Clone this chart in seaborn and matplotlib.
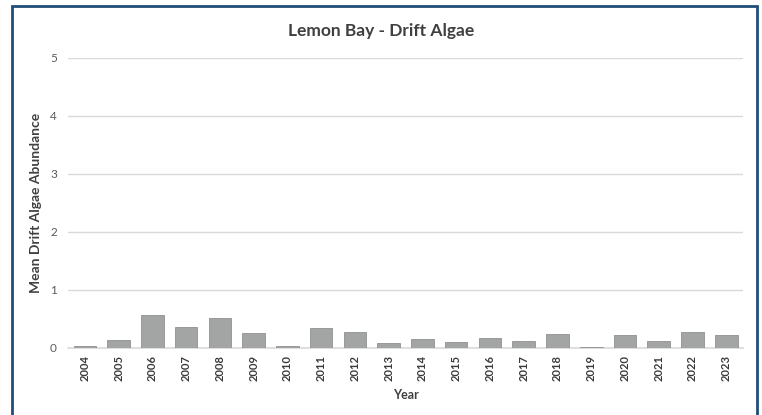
import matplotlib
matplotlib.use("Agg")
import matplotlib.pyplot as plt
import seaborn as sns
import pandas as pd
from matplotlib.patches import Rectangle

years = [str(y) for y in range(2004, 2024)]
abundance = [0.035, 0.13, 0.57, 0.36, 0.51, 0.26, 0.035, 0.34, 0.28, 0.075,
             0.155, 0.10, 0.16, 0.125, 0.24, 0.02, 0.22, 0.11, 0.28, 0.22]
y_ticks = [0, 1, 2, 3, 4, 5]

df = pd.DataFrame({"Year": years, "Abundance": abundance})

sns.set_theme(style="white")
plt.rcParams['font.family'] = ['Lato', 'DejaVu Sans']

fig = plt.figure(figsize=(7.62, 4.15), dpi=100)
ax = fig.add_axes([0.0892, 0.162, 0.886, 0.699])

sns.barplot(data=df, x="Year", y="Abundance", color="#a3a5a5", width=0.67,
            edgecolor="#8f9191", linewidth=0.6, ax=ax, zorder=3)

ax.set_ylim(0, 5)
ax.set_yticks(y_ticks)
ax.set_xlim(-0.5, len(years) - 0.5)
ax.yaxis.grid(True, color="#d9d9d9", linewidth=1.0, zorder=0)
ax.set_axisbelow(True)
for s in ["top", "right", "left"]:
    ax.spines[s].set_visible(False)
ax.spines["bottom"].set_color("#d9d9d9")
ax.spines["bottom"].set_linewidth(1.2)

ax.tick_params(axis="y", length=0, pad=8, labelsize=8.5, labelcolor="#595959")
ax.tick_params(axis="x", length=0, pad=5, labelsize=8, labelcolor="#3a3a3a")
plt.setp(ax.get_xticklabels(), rotation=90, fontweight="bold")

ax.set_xlabel("Year", fontsize=9, fontweight="bold", color="#404040", labelpad=6)
ax.set_ylabel("Mean Drift Algae Abundance", fontsize=10, fontweight="bold",
              color="#404040", labelpad=6)
fig.text(0.5, 0.925, "Lemon Bay - Drift Algae", ha="center", va="center",
         fontsize=12.5, color="#404040", fontweight="bold")

# dark blue frame around the chart
fig.patches.append(Rectangle((12 / 762, -0.05), 745 / 762, 1.05 - 6 / 415,
                             transform=fig.transFigure, fill=False,
                             edgecolor="#1f4e79", linewidth=2.0))

fig.savefig("out.png", dpi=100)
